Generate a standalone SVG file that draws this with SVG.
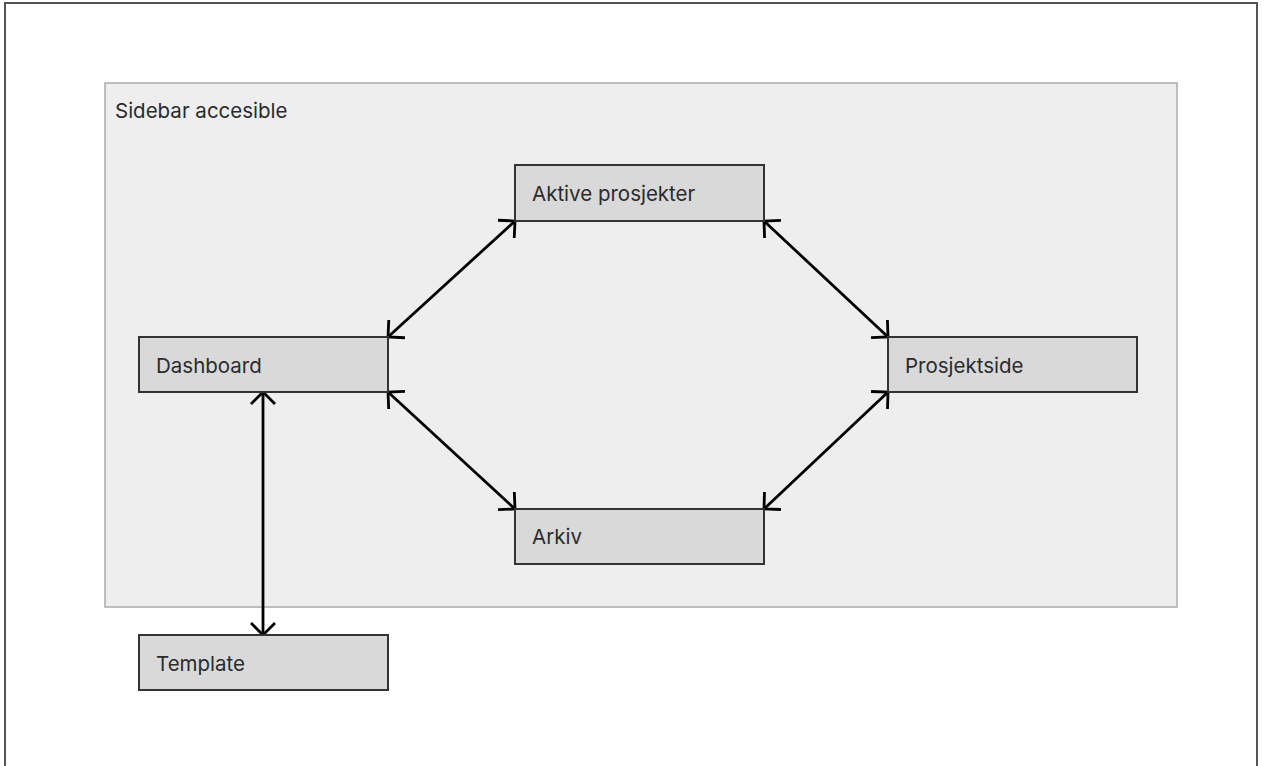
<svg xmlns="http://www.w3.org/2000/svg" width="1264" height="766" viewBox="0 0 1264 766">
  <style>
    .node rect { fill: #d9d9d9; stroke: #333333; stroke-width: 2; }
    .label { font-family: Inter, "Liberation Sans", sans-serif; font-size: 20.5px; fill: #2b2b2b; }
    .conn { stroke: #000000; stroke-width: 2.8; fill: none; marker-start: url(#arr); marker-end: url(#arr); }
  </style>
  <defs>
    <marker id="arr" markerUnits="userSpaceOnUse" viewBox="-14 -14 16 28" refX="0" refY="0" markerWidth="16" markerHeight="28" orient="auto-start-reverse">
      <path d="M-12,-12 L0,0 L-12,12" fill="none" stroke="#000" stroke-width="2.8" stroke-linejoin="miter"/>
    </marker>
  </defs>
  <rect x="0" y="0" width="1264" height="766" fill="#ffffff"/>
  <path id="frame" d="M5,770 V3 H1257 V770" fill="none" stroke="#555555" stroke-width="2"/>
  <g id="sidebar">
    <rect x="105" y="83" width="1072" height="524" fill="#eeeeee" stroke="#aaaaaa" stroke-width="1.5"/>
    <text class="label" x="115" y="118">Sidebar accesible</text>
  </g>
  <g id="connectors">
    <line class="conn" x1="388" y1="337" x2="515" y2="221"/>
    <line class="conn" x1="764" y1="221" x2="888" y2="337"/>
    <line class="conn" x1="388" y1="392" x2="515" y2="509"/>
    <line class="conn" x1="764" y1="509" x2="888" y2="392"/>
    <line class="conn" x1="263" y1="392" x2="263" y2="635"/>
  </g>
  <g id="aktive" class="node">
    <rect x="515" y="165" width="249" height="56"/>
    <text class="label" x="532" y="201">Aktive prosjekter</text>
  </g>
  <g id="dashboard" class="node">
    <rect x="139" y="337" width="249" height="55"/>
    <text class="label" x="156" y="373">Dashboard</text>
  </g>
  <g id="prosjektside" class="node">
    <rect x="888" y="337" width="249" height="55"/>
    <text class="label" x="905" y="373">Prosjektside</text>
  </g>
  <g id="arkiv" class="node">
    <rect x="515" y="509" width="249" height="55"/>
    <text class="label" x="532" y="544">Arkiv</text>
  </g>
  <g id="template" class="node">
    <rect x="139" y="635" width="249" height="55"/>
    <text class="label" x="156" y="671">Template</text>
  </g>
</svg>
